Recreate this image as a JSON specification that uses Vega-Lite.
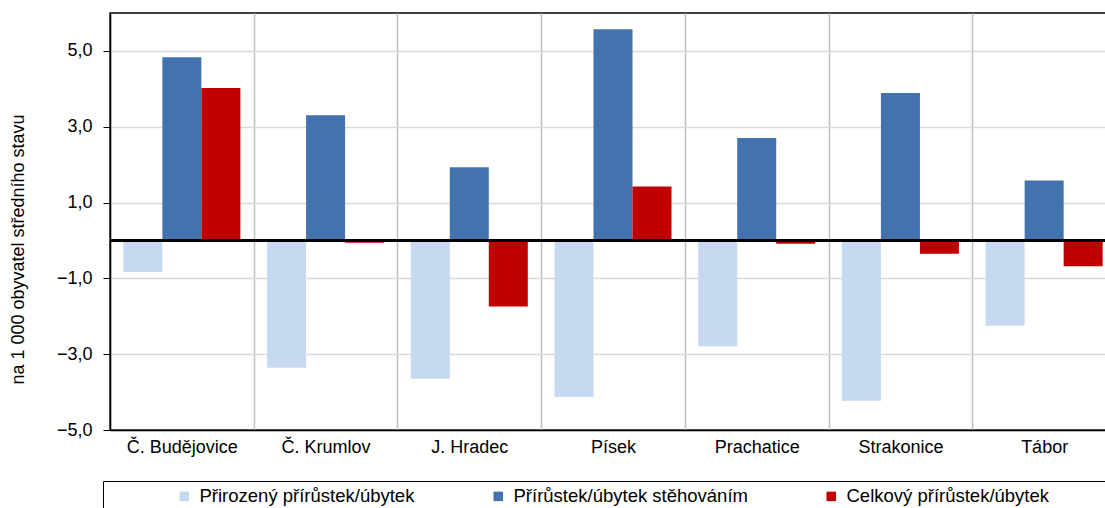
{
  "$schema": "https://vega.github.io/schema/vega-lite/v6.json",
  "width": 1006,
  "height": 417,
  "autosize": {"type": "none"},
  "padding": {"left": 110, "top": 13, "right": 0, "bottom": 78},
  "background": "white",
  "config": {
    "font": "Liberation Sans",
    "view": {"stroke": "black", "strokeWidth": 1.5}
  },
  "data": {
    "values": [
      {"okres": "Č. Budějovice", "ukazatel": "Přirozený přírůstek/úbytek", "hodnota": -0.83},
      {"okres": "Č. Budějovice", "ukazatel": "Přírůstek/úbytek stěhováním", "hodnota": 4.83},
      {"okres": "Č. Budějovice", "ukazatel": "Celkový přírůstek/úbytek", "hodnota": 4.02},
      {"okres": "Č. Krumlov", "ukazatel": "Přirozený přírůstek/úbytek", "hodnota": -3.36},
      {"okres": "Č. Krumlov", "ukazatel": "Přírůstek/úbytek stěhováním", "hodnota": 3.30},
      {"okres": "Č. Krumlov", "ukazatel": "Celkový přírůstek/úbytek", "hodnota": -0.06},
      {"okres": "J. Hradec", "ukazatel": "Přirozený přírůstek/úbytek", "hodnota": -3.65},
      {"okres": "J. Hradec", "ukazatel": "Přírůstek/úbytek stěhováním", "hodnota": 1.93},
      {"okres": "J. Hradec", "ukazatel": "Celkový přírůstek/úbytek", "hodnota": -1.74},
      {"okres": "Písek", "ukazatel": "Přirozený přírůstek/úbytek", "hodnota": -4.13},
      {"okres": "Písek", "ukazatel": "Přírůstek/úbytek stěhováním", "hodnota": 5.57},
      {"okres": "Písek", "ukazatel": "Celkový přírůstek/úbytek", "hodnota": 1.42},
      {"okres": "Prachatice", "ukazatel": "Přirozený přírůstek/úbytek", "hodnota": -2.79},
      {"okres": "Prachatice", "ukazatel": "Přírůstek/úbytek stěhováním", "hodnota": 2.70},
      {"okres": "Prachatice", "ukazatel": "Celkový přírůstek/úbytek", "hodnota": -0.09},
      {"okres": "Strakonice", "ukazatel": "Přirozený přírůstek/úbytek", "hodnota": -4.23},
      {"okres": "Strakonice", "ukazatel": "Přírůstek/úbytek stěhováním", "hodnota": 3.89},
      {"okres": "Strakonice", "ukazatel": "Celkový přírůstek/úbytek", "hodnota": -0.35},
      {"okres": "Tábor", "ukazatel": "Přirozený přírůstek/úbytek", "hodnota": -2.25},
      {"okres": "Tábor", "ukazatel": "Přírůstek/úbytek stěhováním", "hodnota": 1.58},
      {"okres": "Tábor", "ukazatel": "Celkový přírůstek/úbytek", "hodnota": -0.68}
    ]
  },
  "layer": [
    {
      "mark": {"type": "bar"},
      "encoding": {
        "x": {
          "field": "okres",
          "type": "nominal",
          "sort": ["Č. Budějovice", "Č. Krumlov", "J. Hradec", "Písek", "Prachatice", "Strakonice", "Tábor"],
          "scale": {"paddingInner": 0, "paddingOuter": 0},
          "axis": {
            "title": null,
            "orient": "bottom",
            "labelAngle": 0,
            "labelFontSize": 18,
            "labelColor": "black",
            "labelPadding": 8,
            "ticks": false,
            "domainColor": "black",
            "domainWidth": 1.5,
            "grid": true,
            "gridColor": "#bfbfbf",
            "gridWidth": 1.5,
            "tickBand": "extent"
          }
        },
        "xOffset": {
          "field": "ukazatel",
          "type": "nominal",
          "sort": ["Přirozený přírůstek/úbytek", "Přírůstek/úbytek stěhováním", "Celkový přírůstek/úbytek"],
          "scale": {"paddingInner": 0, "paddingOuter": 0.342}
        },
        "y": {
          "field": "hodnota",
          "type": "quantitative",
          "scale": {"domain": [-5, 6], "nice": false, "zero": false},
          "axis": {
            "title": "na 1 000 obyvatel středního stavu",
            "titleFontSize": 18,
            "titleFontWeight": "normal",
            "titleColor": "black",
            "titleX": -87,
            "titleY": 236,
            "titleBaseline": "alphabetic",
            "values": [-5, -3, -1, 1, 3, 5],
            "labelExpr": "replace(format(datum.value, '.1f'), '.', ',')",
            "labelFontSize": 18,
            "labelColor": "black",
            "labelPadding": 11,
            "tickColor": "black",
            "tickSize": 7,
            "domainColor": "black",
            "domainWidth": 1.5,
            "grid": true,
            "gridColor": "#d9d9d9",
            "gridWidth": 1.3
          }
        },
        "color": {
          "field": "ukazatel",
          "type": "nominal",
          "scale": {
            "domain": ["Přirozený přírůstek/úbytek", "Přírůstek/úbytek stěhováním", "Celkový přírůstek/úbytek"],
            "range": ["#c6d9f0", "#4373ae", "#c00000"]
          },
          "legend": {
            "orient": "none",
            "legendX": -7,
            "legendY": 468,
            "direction": "horizontal",
            "title": "\u00a0",
            "titleOrient": "left",
            "titleFontSize": 1,
            "titlePadding": 66,
            "labelFontSize": 18.5,
            "labelColor": "black",
            "labelLimit": 800,
            "labelOffset": 6,
            "symbolType": "square",
            "symbolSize": 90,
            "symbolStrokeWidth": 0,
            "columnPadding": 74,
            "strokeColor": "black",
            "padding": 6,
            "labelExpr": "datum.value === 'Celkový přírůstek/úbytek' ? datum.label + '\u00a0\u00a0\u00a0\u00a0\u00a0\u00a0\u00a0\u00a0\u00a0\u00a0\u00a0\u00a0\u00a0\u00a0\u00a0\u00a0\u2800' : datum.label"
          }
        }
      }
    },
    {
      "mark": {"type": "rule", "color": "black", "strokeWidth": 1.5},
      "encoding": {"y": {"datum": 0}}
    }
  ]
}
